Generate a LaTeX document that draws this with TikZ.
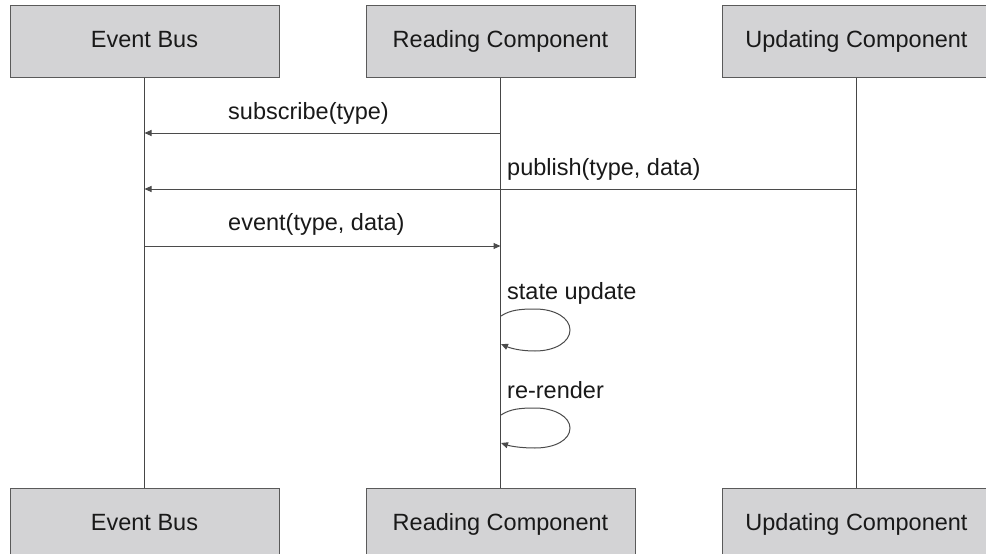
\documentclass[tikz,border=0pt]{standalone}
\usepackage{fontspec}
\setmainfont{Liberation Sans}
\usetikzlibrary{arrows.meta}
\definecolor{boxfill}{RGB}{211,211,213}
\definecolor{boxline}{RGB}{90,90,90}
\definecolor{lifeline}{RGB}{70,70,70}
\definecolor{msgline}{RGB}{75,75,75}
\tikzset{
  actor/.style={draw=boxline, line width=1pt, fill=boxfill, minimum width=269pt, minimum height=72pt, inner sep=0pt, text height=17pt, text depth=5pt, font=\fontsize{23.5}{26}\selectfont, text=black!90},
  lline/.style={draw=lifeline, line width=1pt},
  msg/.style={draw=msgline, line width=1pt, -{Triangle[length=7pt,width=6pt]}},
  lbl/.style={anchor=base west, inner sep=0pt, font=\fontsize{23.5}{26}\selectfont, text=black!90},
}
\begin{document}
\begin{tikzpicture}[x=1pt,y=-1pt]
\useasboundingbox (0,0) rectangle (986,554);
\begin{scope}
\clip (0,0) rectangle (986,554);
% top actors
\node[actor] (ebT) at (144.5,41) {Event Bus};
\node[actor] (rcT) at (500.5,41) {Reading Component};
\node[actor] (ucT) at (856.5,41) {Updating Component};
% bottom actors
\node[actor] (ebB) at (144.5,524) {Event Bus};
\node[actor] (rcB) at (500.5,524) {Reading Component};
\node[actor] (ucB) at (856.5,524) {Updating Component};
% lifelines
\draw[lline] (ebT.south) -- (ebB.north);
\draw[lline] (rcT.south) -- (rcB.north);
\draw[lline] (ucT.south) -- (ucB.north);
% message anchor points
\coordinate (eb1) at (144.5,133);
\coordinate (rc1) at (500.5,133);
\coordinate (eb2) at (144.5,189);
\coordinate (uc2) at (856.5,189);
\coordinate (eb3) at (144.5,246);
\coordinate (rc3) at (500.5,246);
\coordinate (s1) at (501,316);
\coordinate (e1) at (501,344);
\coordinate (s2) at (501,415);
\coordinate (e2) at (501,443);
% messages
\draw[msg] (rc1) -- (eb1);
\node[lbl] (l1) at (228,119) {subscribe(type)};
\draw[msg] (uc2) -- (eb2);
\node[lbl] (l2) at (507,175) {publish(type, data)};
\draw[msg] (eb3) -- (rc3);
\node[lbl] (l3) at (228,230) {event(type, data)};
% self loops
\node[lbl] (l4) at (507,299) {state update};
\draw[msg] (s1) .. controls (510,310) and (520,309) .. (535,309)
  .. controls (555,309) and (570,318) .. (570,330)
  .. controls (570,342) and (555,351) .. (535,351)
  .. controls (520,351) and (510,348) .. (e1);
\node[lbl] (l5) at (507,398) {re-render};
\draw[msg] (s2) .. controls (510,409) and (520,408) .. (535,408)
  .. controls (555,408) and (570,417) .. (570,428)
  .. controls (570,440) and (555,448) .. (535,448)
  .. controls (520,448) and (510,446) .. (e2);
\end{scope}
\end{tikzpicture}
\end{document}
